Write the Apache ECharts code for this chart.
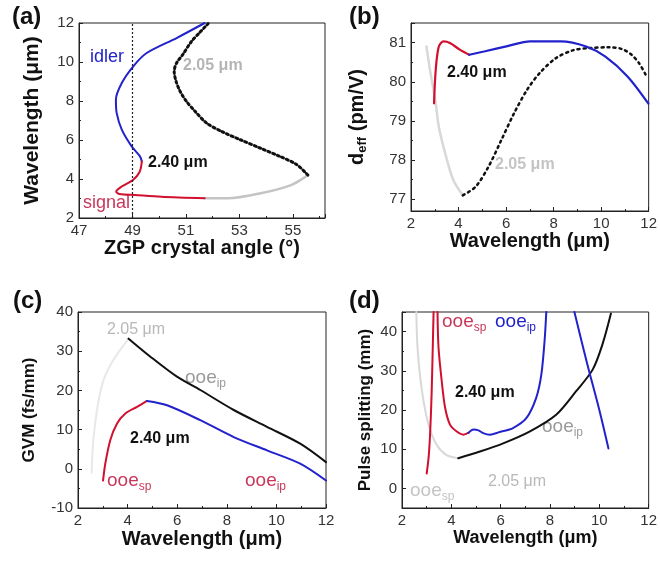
<!DOCTYPE html>
<html>
<head>
<meta charset="utf-8">
<script src="https://cdn.jsdelivr.net/npm/echarts@6/dist/echarts.min.js"></script>
<style>
  html, body { margin: 0; padding: 0; background: #fff; }
  #chart { width: 660px; height: 561px; }
</style>
</head>
<body>
<div id="chart"></div>
<script>
// (a) phase matching: [crystal angle (deg), wavelength (um)]
const aIdler = [[51.7, 12], [50.65, 11.23], [49.53, 10.46], [49.03, 9.78], [48.6, 8.92], [48.38, 8.07],
  [48.41, 7.38], [48.6, 6.53], [48.97, 5.67], [49.28, 5.16], [49.35, 4.9]];
const aSignal = [[49.35, 4.9], [49.27, 4.37], [49.02, 3.95], [48.58, 3.6], [48.39, 3.35], [48.52, 3.23],
  [49.08, 3.18], [50.08, 3.09], [51.7, 3.01]];
const aPump205Grey = [[51.7, 3.01], [52.57, 3.01], [53.8, 3.27], [54.93, 3.69], [55.56, 4.2]];
const aPump205 = [[55.56, 4.2], [55.14, 4.74], [54.51, 5.16], [53.77, 5.59], [53.02, 6.02], [52.33, 6.44],
  [51.77, 6.87], [51.34, 7.47], [51.02, 7.98], [50.78, 8.5], [50.63, 9.01], [50.56, 9.52], [50.65, 9.95],
  [50.88, 10.38], [51.21, 11.06], [51.5, 11.49], [51.83, 11.97]];
const aRefAngle = 49;

// (b) d_eff: [wavelength (um), pm/V]
const bSignal = [[2.97, 79.45], [3.04, 80.3], [3.17, 80.9], [3.37, 81.03], [3.64, 80.99], [4.05, 80.82], [4.45, 80.69]];
const bIdler = [[4.45, 80.69], [5.12, 80.78], [6.06, 80.91], [7.01, 81.03], [8.3, 81.03], [9.37, 80.9],
  [10.18, 80.64], [11.12, 80.13], [11.99, 79.44]];
const bPump205Grey = [[2.65, 80.9], [2.8, 80.3], [3.04, 79.45], [3.17, 78.85], [3.44, 78.17], [3.78, 77.49], [4.18, 77.1]];
const bPump205 = [[4.18, 77.1], [4.72, 77.32], [5.26, 77.83], [5.8, 78.51], [6.34, 79.2], [6.88, 79.79],
  [7.41, 80.22], [8.09, 80.6], [8.8, 80.8], [9.5, 80.86], [10.3, 80.88], [10.85, 80.84], [11.26, 80.7],
  [11.6, 80.47], [11.9, 80.15]];

// (c) GVM: [wavelength (um), fs/mm]
const cSignal = [[3.01, -3], [3.1, 1.3], [3.3, 7.3], [3.57, 11.5], [3.91, 14.1], [4.38, 15.8], [4.78, 17.3]];
const cIdler = [[4.78, 17.3], [5.59, 16.2], [6.93, 12.4], [8.28, 8.1], [9.62, 4.7], [10.96, 1.3], [12, -3]];
const cPump205 = [[4.04, 33.2], [4.92, 28.6], [5.99, 23.5], [6.93, 20.1], [8.28, 15], [9.62, 10.7], [10.96, 6.4], [12, 1.7]];
const cPump205Grey = [[2.55, -1], [2.6, 6], [2.7, 12], [2.85, 18], [3.05, 23], [3.45, 28], [4.04, 33.2]];

// (d) pulse splitting: [wavelength (um), mm]
const dSignalA = [[3.0, 3.8], [3.08, 8], [3.14, 14], [3.2, 24], [3.24, 34], [3.28, 45]];
const dSignalB = [[3.44, 45], [3.48, 36], [3.61, 27.4], [3.75, 20.5], [3.95, 16.2], [4.22, 14.5], [4.49, 13.7], [4.7, 14.2]];
const dIdlerA = [[4.7, 14.2], [4.9, 15], [5.1, 14.8], [5.29, 14.1], [5.56, 13.7], [5.96, 14.4], [6.5, 15.4],
  [7.04, 17.9], [7.44, 23.1], [7.65, 29.1], [7.78, 37.6], [7.85, 45]];
const dIdlerB = [[8.99, 45], [9.5, 32], [10.0, 20], [10.37, 10.2]];
const dPump205 = [[4.28, 7.7], [5.16, 9.4], [6.1, 11.5], [7.17, 14.5], [8.25, 18.8], [9.06, 24.8], [9.73, 30.3], [10.13, 36.8], [10.47, 44.6]];
const dPump205Grey = [[2.58, 45], [2.63, 35.9], [2.81, 24.8], [3.08, 16.2], [3.41, 11.1], [3.81, 8.5], [4.28, 7.7]];

const BLUE = '#2222cc';
const RED = '#d0102e';
const GREY = '#c4c4c4';
const LIGHT = '#d8d8d8';
const FONT = 'Liberation Sans';

function axisBase(extra) {
  return Object.assign({
    type: 'value',
    axisLine: { show: true, onZero: false, lineStyle: { color: '#222', width: 1 } },
    axisTick: { show: true, inside: true, length: 4, lineStyle: { color: '#222' } },
    minorTick: { show: true, splitNumber: 2, length: 2, lineStyle: { color: '#222' } },
    splitLine: { show: false },
    axisLabel: { color: '#333', fontSize: 15, fontFamily: FONT, margin: 5 },
    nameLocation: 'middle',
    nameTextStyle: { color: '#111', fontSize: 18, fontWeight: 'bold', fontFamily: FONT }
  }, extra);
}

function titleStyle(size) {
  return { color: '#111', fontSize: size, fontWeight: 'bold', fontFamily: FONT };
}

function line(data, color, xi, width, dash) {
  return {
    type: 'line', data: data, xAxisIndex: xi, yAxisIndex: xi, showSymbol: false, smooth: 0.3,
    silent: true, clip: true,
    lineStyle: { color: color, width: width || 2, type: dash || 'solid', cap: 'round' }
  };
}

const chart = echarts.init(document.getElementById('chart'), null, { renderer: 'canvas' });

const gridStyle = { show: true, borderColor: '#222', borderWidth: 1, containLabel: false };

function txt(x, y, text, color, size, bold, rich) {
  return {
    type: 'text', x: x, y: y, silent: true,
    style: {
      text: text, fill: color, fontSize: size, fontFamily: FONT,
      fontWeight: bold ? 'bold' : 'normal', verticalAlign: 'middle', align: 'left', rich: rich
    }
  };
}

function ooe(x, y, sub, color) {
  return txt(x, y, '{m|ooe}{s|' + sub + '}', color, 19, false, {
    m: { fontSize: 19, fill: color, fontFamily: FONT, lineHeight: 24, verticalAlign: 'middle' },
    s: { fontSize: 12, fill: color, fontFamily: FONT, verticalAlign: 'bottom', lineHeight: 14 }
  });
}

const option = {
  backgroundColor: '#fff',
  animation: false,
  grid: [
    Object.assign({ left: 79, top: 23, width: 246, height: 195 }, gridStyle),
    Object.assign({ left: 411, top: 23, width: 248, height: 188 }, gridStyle),
    Object.assign({ left: 78, top: 312, width: 248, height: 196 }, gridStyle),
    Object.assign({ left: 402, top: 312, width: 248, height: 196 }, gridStyle)
  ],
  xAxis: [
    axisBase({ gridIndex: 0, min: 47, max: 56.2, interval: 2, name: 'ZGP crystal angle (°)', nameGap: 16,
      nameTextStyle: titleStyle(20),
      axisLabel: { color: '#333', fontSize: 15, fontFamily: FONT, margin: 5, showMaxLabel: false } }),
    axisBase({ gridIndex: 1, min: 2, max: 12, interval: 2, name: 'Wavelength (μm)', nameGap: 17,
      nameTextStyle: titleStyle(20) }),
    axisBase({ gridIndex: 2, min: 2, max: 12, interval: 2, name: 'Wavelength (μm)', nameGap: 21,
      nameTextStyle: titleStyle(20) }),
    axisBase({ gridIndex: 3, min: 2, max: 12, interval: 2, name: 'Wavelength (μm)', nameGap: 20 })
  ],
  yAxis: [
    axisBase({ gridIndex: 0, min: 2, max: 12, interval: 2, name: 'Wavelength (μm)', nameGap: 36,
      nameTextStyle: titleStyle(21) }),
    axisBase({ gridIndex: 1, min: 76.7, max: 81.5, splitNumber: 5, nameGap: 42,
      name: '{b|d}{s|eff}{b| (pm/V)}',
      nameTextStyle: { rich: {
        b: { fontSize: 20, fontWeight: 'bold', fontFamily: FONT, color: '#111', lineHeight: 24 },
        s: { fontSize: 13, fontWeight: 'bold', fontFamily: FONT, color: '#111', verticalAlign: 'bottom', lineHeight: 15 }
      } },
      axisLabel: { color: '#333', fontSize: 15, fontFamily: FONT, margin: 5, showMinLabel: false, showMaxLabel: false } }),
    axisBase({ gridIndex: 2, min: -10, max: 40, interval: 10, name: 'GVM (fs/mm)', nameGap: 40,
      nameTextStyle: titleStyle(17) }),
    axisBase({ gridIndex: 3, min: -5, max: 45, splitNumber: 5, name: 'Pulse splitting (mm)', nameGap: 28,
      nameTextStyle: titleStyle(17),
      axisLabel: { color: '#333', fontSize: 15, fontFamily: FONT, margin: 5, showMinLabel: false, showMaxLabel: false } })
  ],
  series: [
    line(aPump205Grey, GREY, 0, 2.5),
    line(aPump205, '#111', 0, 3, [2, 3]),
    Object.assign(line(aIdler, BLUE, 0, 2), {
      markLine: {
        silent: true, symbol: 'none', label: { show: false },
        lineStyle: { color: '#222', type: [2, 2], width: 1.2 },
        data: [{ xAxis: aRefAngle }]
      }
    }),
    line(aSignal, RED, 0, 2),

    line(bPump205Grey, LIGHT, 1, 2.5),
    line(bPump205, '#111', 1, 2.5, [2, 4]),
    line(bSignal, RED, 1, 2.2),
    line(bIdler, BLUE, 1, 2.2),

    line(cPump205Grey, '#e8e8e8', 2, 2),
    line(cPump205, '#111', 2, 2),
    line(cSignal, RED, 2, 2),
    line(cIdler, BLUE, 2, 2),

    line(dPump205Grey, LIGHT, 3, 2),
    line(dPump205, '#111', 3, 2),
    line(dSignalA, RED, 3, 2),
    line(dSignalB, RED, 3, 2),
    line(dIdlerA, BLUE, 3, 2),
    line(dIdlerB, BLUE, 3, 2)
  ],
  graphic: [
    txt(12, 17, '(a)', '#111', 24, true),
    txt(349, 17, '(b)', '#111', 24, true),
    txt(13, 301, '(c)', '#111', 24, true),
    txt(349, 301, '(d)', '#111', 24, true),

    txt(90, 57, 'idler', BLUE, 18, false),
    txt(83, 203, 'signal', '#c8385a', 18, false),
    txt(183, 66, '2.05 μm', '#b4b4b4', 16, true),
    txt(148, 163, '2.40 μm', '#111', 16, true),

    txt(447, 73, '2.40 μm', '#111', 16, true),
    txt(495, 165, '2.05 μm', '#c4c4c4', 16, true),

    txt(107, 330, '2.05 μm', '#b8b8b8', 16, false),
    ooe(185, 378, 'ip', '#9a9a9a'),
    txt(130, 439, '2.40 μm', '#111', 16, true),
    ooe(107, 481, 'sp', '#c8385a'),
    ooe(245, 481, 'ip', '#c8385a'),

    ooe(442, 322, 'sp', '#c8385a'),
    ooe(495, 322, 'ip', BLUE),
    txt(455, 393, '2.40 μm', '#111', 16, true),
    ooe(542, 427, 'ip', '#9a9a9a'),
    ooe(410, 491, 'sp', '#c4c4c4'),
    txt(488, 482, '2.05 μm', '#b8b8b8', 16, false)
  ]
};

chart.setOption(option);
</script>
</body>
</html>
